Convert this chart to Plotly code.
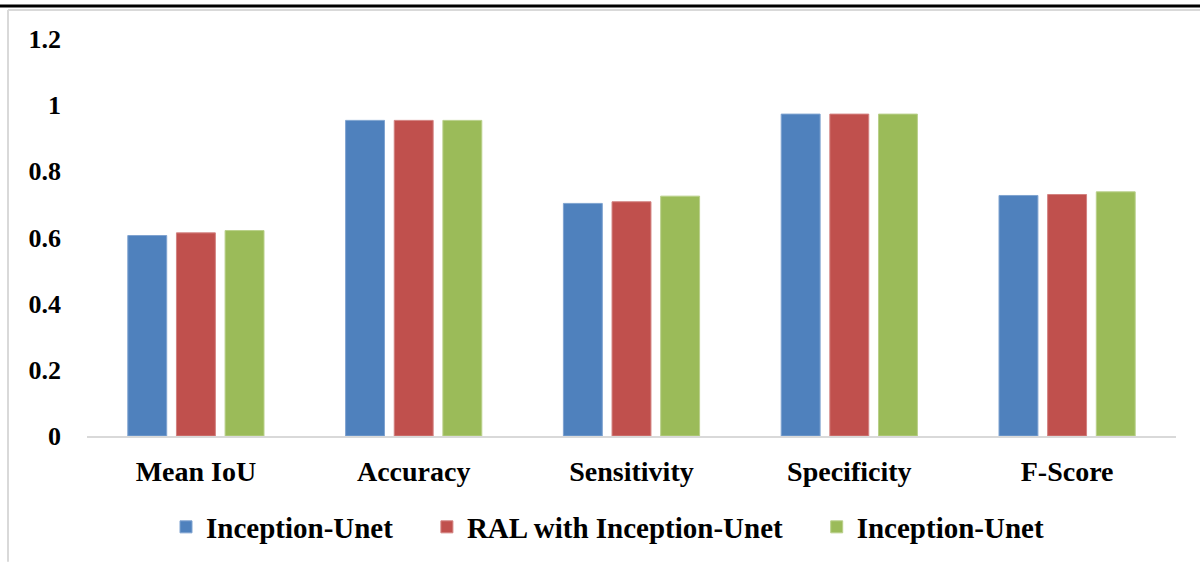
import plotly.graph_objects as go

categories = ["Mean IoU", "Accuracy", "Sensitivity", "Specificity", "F-Score"]
series_names = ["Inception-Unet", "RAL with Inception-Unet", "Inception-Unet"]
inception_unet = [0.606, 0.954, 0.703, 0.973, 0.727]
ral_inception_unet = [0.614, 0.954, 0.708, 0.973, 0.730]
inception_unet_2 = [0.621, 0.954, 0.725, 0.973, 0.738]
y_ticks = [0, 0.2, 0.4, 0.6, 0.8, 1, 1.2]
y_tick_labels = ["0", "0.2", "0.4", "0.6", "0.8", "1", "1.2"]

colors = ["#4F81BD", "#C0504D", "#9BBB59"]
edge_colors = ["#7FA3D0", "#D38280", "#B9D08A"]
FONT = "Liberation Serif, Times New Roman, serif"
PAD = "\u00a0" * 4  # extra spacing between legend entries

fig = go.Figure()
all_vals = [inception_unet, ral_inception_unet, inception_unet_2]
for i, (name, vals, c, ec) in enumerate(zip(series_names, all_vals, colors, edge_colors)):
    label = name + (PAD if i < len(series_names) - 1 else "")
    fig.add_trace(go.Bar(x=categories, y=vals, name=label,
                         marker=dict(color=c, line=dict(color=ec, width=1))))

L, R, T, B = 87, 24, 39, 126
W, H = 1200, 563
pw, ph = W - L - R, H - T - B

def px_x(p):
    return (p - L) / pw

def px_y(p):
    return (H - B - p) / ph

fig.update_layout(
    width=W, height=H,
    margin=dict(l=L, r=R, t=T, b=B),
    paper_bgcolor="white", plot_bgcolor="white",
    barmode="group", bargap=0.33, bargroupgap=0.2,
    font=dict(family=FONT, size=24, color="black"),
    showlegend=True,
    legend=dict(orientation="h", x=px_x(180 - 14), xanchor="left",
                y=px_y(527), yanchor="middle",
                font=dict(family=FONT, size=29, color="black", weight="bold"),
                traceorder="normal"),
    xaxis=dict(showgrid=False, showline=True, linecolor="#D9D9D9", linewidth=2,
               ticks="", ticklabelstandoff=9,
               tickfont=dict(family=FONT, size=28, color="black", weight="bold")),
    yaxis=dict(range=[0, 1.2], tickvals=y_ticks, ticktext=y_tick_labels,
               showgrid=False, showline=False, zeroline=False, ticks="",
               ticklabelstandoff=25,
               tickfont=dict(family=FONT, size=26, color="black", weight="bold")),
    shapes=[
        dict(type="line", xref="paper", yref="paper",
             x0=px_x(0), x1=px_x(1200), y0=px_y(6), y1=px_y(6),
             line=dict(color="black", width=3)),
        dict(type="line", xref="paper", yref="paper",
             x0=px_x(8), x1=px_x(1200), y0=px_y(10), y1=px_y(10),
             line=dict(color="#D9D9D9", width=2)),
        dict(type="line", xref="paper", yref="paper",
             x0=px_x(8), x1=px_x(8), y0=px_y(10), y1=px_y(563),
             line=dict(color="#D9D9D9", width=2)),
    ],
)

fig.write_html("out.html", config={"displayModeBar": False},
               post_script="document.body.style.margin='0';")
